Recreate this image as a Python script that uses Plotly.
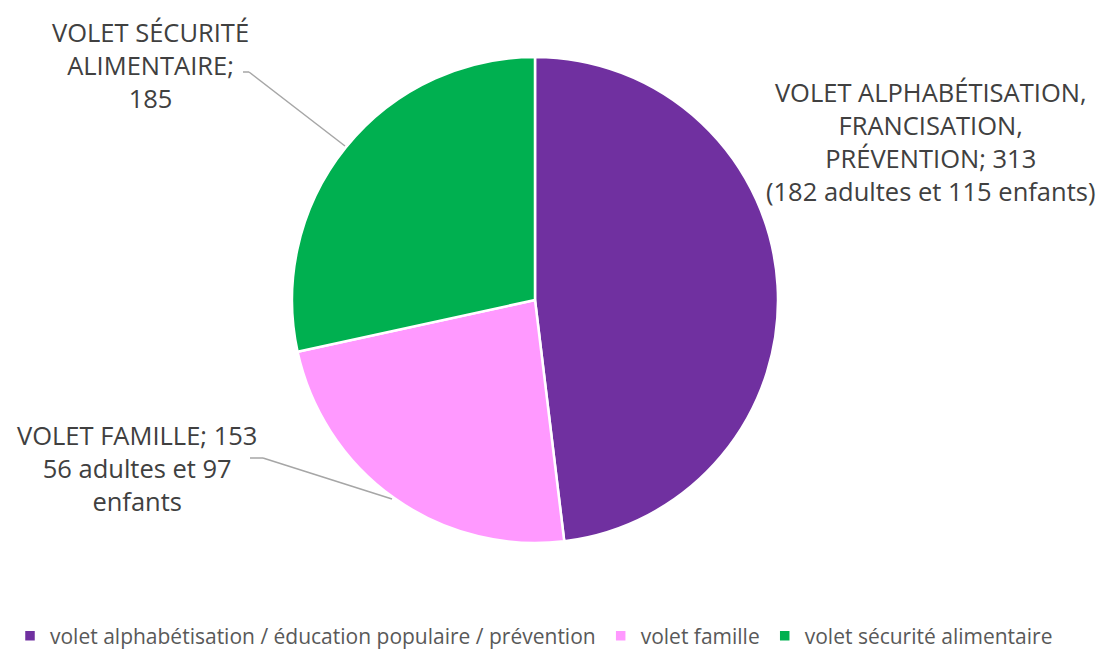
import plotly.graph_objects as go

categories = ["volet alphabétisation / éducation populaire / prévention",
              "volet famille",
              "volet sécurité alimentaire"]
values = [313, 153, 185]
colors = ["#7030A0", "#FF99FF", "#00B050"]
label_texts = [
    "VOLET ALPHABÉTISATION,<br>FRANCISATION,<br>PRÉVENTION; 313<br>(182 adultes et 115 enfants)",
    "VOLET FAMILLE; 153<br>56 adultes et 97<br>enfants",
    "VOLET SÉCURITÉ<br>ALIMENTAIRE;<br>185",
]

W, H = 1104, 649
FONT = "Open Sans"
TXT = "#404040"

def px(x):
    return x / W

def py(y):
    return 1 - y / H

fig = go.Figure(go.Pie(
    labels=categories,
    values=values,
    marker=dict(colors=colors, line=dict(color="white", width=2.5)),
    sort=False,
    direction="clockwise",
    rotation=0,
    textinfo="none",
    hoverinfo="label+value",
    domain=dict(x=[px(292), px(778)], y=[py(543), py(57)]),
))

ann_pos = [(930, 141), (137, 468), (150, 65)]
annotations = []
for t, (x, y) in zip(label_texts, ann_pos):
    annotations.append(dict(
        x=px(x), y=py(y), xref="paper", yref="paper",
        text=t, showarrow=False, align="center",
        xanchor="center", yanchor="middle",
        font=dict(family=FONT, size=25.5, color=TXT),
    ))

leaders = [
    [(243, 72), (249, 72), (345, 146)],
    [(250, 458), (263, 458), (392, 499)],
]
shapes = []
for pts in leaders:
    for (x0, y0), (x1, y1) in zip(pts[:-1], pts[1:]):
        shapes.append(dict(type="line", xref="paper", yref="paper",
                           x0=px(x0), y0=py(y0), x1=px(x1), y1=py(y1),
                           line=dict(color="#A6A6A6", width=1.5)))

fig.update_layout(
    width=W, height=H,
    margin=dict(l=0, r=0, t=0, b=0, autoexpand=False),
    paper_bgcolor="white", plot_bgcolor="white",
    annotations=annotations,
    shapes=shapes,
    showlegend=True,
    legend=dict(orientation="h", x=0.5 - 18 / W, xanchor="center", y=py(636), yanchor="middle",
                font=dict(family=FONT, size=21, color="#595959"),
                itemwidth=30, traceorder="normal"),
)

fig.write_html("out.html", config={"displayModeBar": False},
               post_script="document.body.style.margin='0';")
